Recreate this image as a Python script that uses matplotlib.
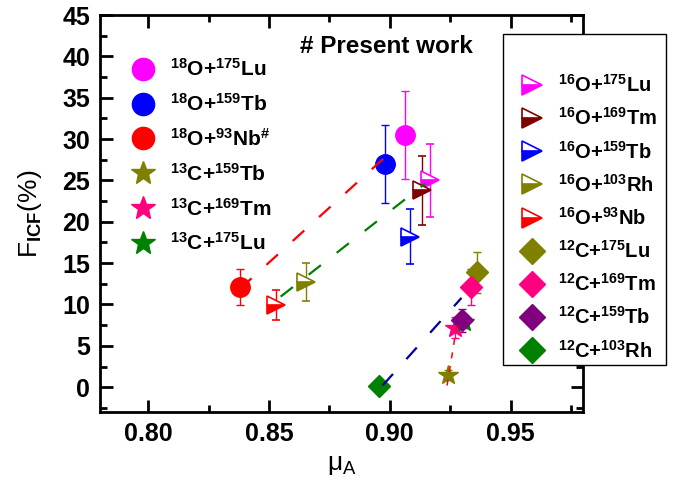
import matplotlib
matplotlib.use('Agg')
import matplotlib.pyplot as plt
from matplotlib.lines import Line2D
from matplotlib.patches import Rectangle
from matplotlib.ticker import MultipleLocator, FormatStrFormatter

plt.rcParams['font.family'] = 'Liberation Sans'
plt.rcParams['font.weight'] = 'bold'
plt.rcParams['mathtext.fontset'] = 'custom'
plt.rcParams['mathtext.rm'] = 'Liberation Sans:bold'
plt.rcParams['mathtext.bf'] = 'Liberation Sans:bold'
plt.rcParams['mathtext.it'] = 'Liberation Sans'
plt.rcParams['mathtext.default'] = 'bf'

# 18O induced reactions (circles)
o18_labels = [r'$^{18}$O+$^{175}$Lu', r'$^{18}$O+$^{159}$Tb', r'$^{18}$O+$^{93}$Nb$^{\#}$']
o18_colors = ['#FF00FF', '#0000FF', '#FF0000']
o18_mu = [0.9065, 0.8982, 0.838]
o18_f = [30.5, 27.0, 12.1]
o18_err = [5.3, 4.7, 2.2]

# 13C induced reactions (stars)
c13_labels = [r'$^{13}$C+$^{159}$Tb', r'$^{13}$C+$^{169}$Tm', r'$^{13}$C+$^{175}$Lu']
c13_colors = ['#808000', '#FF0080', '#008000']
c13_mu = [0.9242, 0.927, 0.9307]
c13_f = [1.5, 7.2, 7.9]
c13_err = [0.6, 1.3, 0.8]

# 16O induced reactions (half filled triangles)
o16_labels = [r'$^{16}$O+$^{175}$Lu', r'$^{16}$O+$^{169}$Tm', r'$^{16}$O+$^{159}$Tb',
              r'$^{16}$O+$^{103}$Rh', r'$^{16}$O+$^{93}$Nb']
o16_colors = ['#FF00FF', '#800000', '#0000FF', '#808000', '#FF0000']
o16_mu = [0.9165, 0.9135, 0.9085, 0.8655, 0.853]
o16_f = [25.0, 23.8, 18.2, 12.7, 9.9]
o16_err = [4.45, 4.2, 3.3, 2.3, 1.8]

# 12C induced reactions (diamonds)
c12_labels = [r'$^{12}$C+$^{175}$Lu', r'$^{12}$C+$^{169}$Tm', r'$^{12}$C+$^{159}$Tb', r'$^{12}$C+$^{103}$Rh']
c12_colors = ['#808000', '#FF0080', '#800080', '#008000']
c12_mu = [0.936, 0.9336, 0.9297, 0.8955]
c12_f = [13.9, 12.1, 8.1, 0.2]
c12_err = [2.5, 2.2, 1.4, 0.0]

# dashed guide lines (start, end)
fit_colors = ['#FF0000', '#008000', '#0000A0', '#FF0000']
fit_mu = [[0.838, 0.901], [0.8548, 0.9146], [0.897, 0.9297], [0.9237, 0.9279]]
fit_f = [[11.9, 28.6], [10.95, 24.6], [0.2, 10.8], [0.2, 7.7]]
fit_lw = [1.6, 1.6, 1.6, 1.1]

fig = plt.figure(figsize=(6.85, 4.82), dpi=100)
ax = fig.add_axes([100/685, 1-412/482, 483/685, 397/482])

for i in range(3):
    ax.errorbar(o18_mu[i], o18_f[i], yerr=o18_err[i], fmt='o', color=o18_colors[i],
                ms=14, elinewidth=1, capsize=3, capthick=1, zorder=3)
for i in range(3):
    ax.errorbar(c13_mu[i], c13_f[i], yerr=c13_err[i], fmt='*', color=c13_colors[i],
                ms=15, elinewidth=1, capsize=3, capthick=1, zorder=3)
for i in range(5):
    ax.errorbar(o16_mu[i], o16_f[i], yerr=o16_err[i], fmt='>', color=o16_colors[i],
                mfc=o16_colors[i], mfcalt='white', fillstyle='bottom', mew=1.2,
                ms=13, elinewidth=1, capsize=3, capthick=1, zorder=3)
for i in range(4):
    ax.errorbar(c12_mu[i], c12_f[i], yerr=c12_err[i], fmt='D', color=c12_colors[i],
                ms=11, elinewidth=1, capsize=3, capthick=1, zorder=3)

for i in range(4):
    ax.plot(fit_mu[i], fit_f[i], color=fit_colors[i], lw=fit_lw[i],
            dashes=(7, 9) if i < 3 else (4, 5), zorder=4)

ax.set_xlim(0.78, 0.98)
ax.set_ylim(-3, 45)
ax.xaxis.set_major_locator(MultipleLocator(0.05))
ax.xaxis.set_minor_locator(MultipleLocator(0.025))
ax.xaxis.set_major_formatter(FormatStrFormatter('%.2f'))
ax.yaxis.set_major_locator(MultipleLocator(5))
ax.yaxis.set_minor_locator(MultipleLocator(2.5))
ax.tick_params(which='both', direction='in', top=True, right=True, labelsize=18, width=2)
ax.tick_params(which='major', length=9, pad=7)
ax.tick_params(which='minor', length=5)
for s in ax.spines.values():
    s.set_linewidth(2)
ax.set_xlabel(r'$\mathregular{\mu_{A}}$', fontsize=19, labelpad=5)
ax.set_ylabel(r'F$_{\mathbf{ICF}}$(%)', fontsize=19, labelpad=13)

ax.text((300-100)/483, (412-53)/397, '# Present work', transform=ax.transAxes,
        fontsize=17.5, fontweight='bold')

left_handles = []
for i in range(3):
    left_handles.append(Line2D([], [], ls='none', marker='o', color=o18_colors[i], ms=16))
for i in range(3):
    left_handles.append(Line2D([], [], ls='none', marker='*', color=c13_colors[i], ms=18))
leg1 = ax.legend(left_handles, o18_labels + c13_labels, loc='upper left',
                 bbox_to_anchor=(123/685, 1-54/482), bbox_transform=fig.transFigure,
                 frameon=False, fontsize=15, labelspacing=0.62, handletextpad=0.55,
                 borderaxespad=0, borderpad=0.2, handlelength=1.5)

# right legend: white box drawn over the right spine
box = Rectangle((503/685, 1-365/482), 163/685, 331/482, transform=fig.transFigure,
                facecolor='white', edgecolor='black', lw=1, zorder=4.9)
fig.add_artist(box)
right_handles = []
for i in range(5):
    right_handles.append(Line2D([], [], ls='none', marker='>', color=o16_colors[i],
                                mfc=o16_colors[i], mfcalt='white', fillstyle='bottom',
                                mew=1.2, ms=15))
for i in range(4):
    right_handles.append(Line2D([], [], ls='none', marker='D', color=c12_colors[i], ms=13))
leg2 = fig.legend(right_handles, o16_labels + c12_labels, loc='upper left',
                  bbox_to_anchor=(509/685, 1-66/482), bbox_transform=fig.transFigure,
                  frameon=False, fontsize=14.5, labelspacing=0.56, handletextpad=0.55,
                  borderaxespad=0, borderpad=0.4, handlelength=1.5)
leg2.set_zorder(5)

fig.savefig('out.png', dpi=100)
